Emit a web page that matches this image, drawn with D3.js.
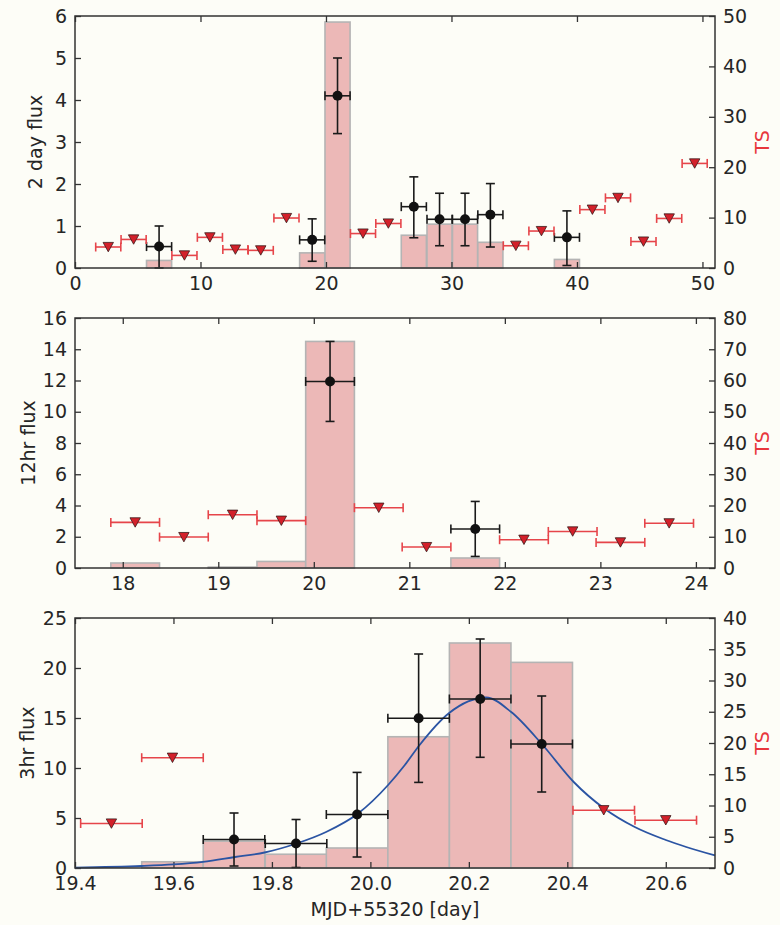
<!DOCTYPE html>
<html>
<head>
<meta charset="utf-8">
<script src="https://cdn.jsdelivr.net/npm/d3@7"></script>
<style>
  html, body { margin: 0; padding: 0; background: #fdfdf7; }
  svg { display: block; }
</style>
</head>
<body>
<div id="chart"></div>
<script>
// ---------- 2-day bins ----------
// null error bounds mark an upper limit (red triangle)
const day2Centers = [2.65, 4.67, 6.70, 8.72, 10.75, 12.78, 14.80, 16.85, 18.90, 20.92, 22.95, 24.97,
                     27.00, 29.05, 31.08, 33.10, 35.13, 37.17, 39.20, 41.23, 43.27, 45.30, 47.35, 49.38];
const day2Flux    = [0.50, 0.68, 0.51, 0.30, 0.73, 0.44, 0.42, 1.19, 0.67, 4.10, 0.82, 1.06,
                     1.46, 1.16, 1.16, 1.27, 0.53, 0.88, 0.73, 1.39, 1.67, 0.63, 1.18, 2.49];
const day2Low     = [null, null, 0.00, null, null, null, null, null, 0.16, 3.20, null, null,
                     0.72, 0.53, 0.53, 0.50, null, null, 0.06, null, null, null, null, null];
const day2High    = [null, null, 1.00, null, null, null, null, null, 1.17, 5.00, null, null,
                     2.17, 1.78, 1.78, 2.01, null, null, 1.36, null, null, null, null, null];
const day2TS      = [0, 0, 1.5, 0, 0, 0, 0, 0, 3.0, 48.8, 0, 0,
                     6.5, 8.7, 8.7, 5.1, 0, 0, 1.7, 0, 0, 0, 0, 0];
const day2HalfWidth = 1.0;
const day2XTicks = [0, 10, 20, 30, 40, 50];
const day2YTicks = [0, 1, 2, 3, 4, 5, 6];
const day2TSTicks = [0, 10, 20, 30, 40, 50];

// ---------- 12-hour bins ----------
const hr12Centers = [18.13, 18.64, 19.15, 19.66, 20.17, 20.68, 21.18, 21.69, 22.20, 22.71, 23.21, 23.72];
const hr12Flux    = [2.92, 1.98, 3.41, 3.03, 11.94, 3.86, 1.34, 2.50, 1.81, 2.34, 1.64, 2.86];
const hr12Low     = [null, null, null, null, 9.38, null, null, 0.74, null, null, null, null];
const hr12High    = [null, null, null, null, 14.50, null, null, 4.26, null, null, null, null];
const hr12TS      = [1.6, 0, 0.3, 2.1, 72.5, 0, 0, 3.2, 0, 0, 0, 0];
const hr12HalfWidth = 0.255;
const hr12XTicks = [18, 19, 20, 21, 22, 23, 24];
const hr12YTicks = [0, 2, 4, 6, 8, 10, 12, 14, 16];
const hr12TSTicks = [0, 10, 20, 30, 40, 50, 60, 70, 80];

// ---------- 3-hour bins ----------
const hr3Centers = [19.474, 19.598, 19.723, 19.849, 19.973, 20.098, 20.223, 20.348, 20.474, 20.600];
const hr3Flux    = [4.45, 11.03, 2.85, 2.45, 5.35, 14.97, 16.90, 12.40, 5.78, 4.78];
const hr3Low     = [null, null, 0.20, 0.05, 1.10, 8.56, 11.07, 7.60, null, null];
const hr3High    = [null, null, 5.50, 4.85, 9.56, 21.40, 22.90, 17.20, null, null];
const hr3TS      = [0, 1.0, 4.3, 2.2, 3.2, 21.0, 36.0, 32.9, 0, 0];
const hr3HalfWidth = 0.0625;
const hr3XTicks = [19.4, 19.6, 19.8, 20.0, 20.2, 20.4, 20.6];
const hr3YTicks = [0, 5, 10, 15, 20, 25];
const hr3TSTicks = [0, 5, 10, 15, 20, 25, 30, 35, 40];

// flare profile fitted to the 3-hour fluxes (sampled: day, flux)
const fitDays = [19.40, 19.535, 19.60, 19.66, 19.725, 19.785, 19.85, 19.91, 19.975, 20.036, 20.07, 20.10,
                 20.16, 20.235, 20.286, 20.35, 20.413, 20.475, 20.537, 20.60, 20.70];
const fitFlux = [0.04, 0.20, 0.36, 0.62, 1.10, 1.55, 2.45, 3.60, 5.45, 8.30, 10.30, 12.30,
                 15.50, 17.05, 15.60, 12.30, 8.60, 5.95, 4.10, 2.80, 1.25];

// ---------- layout ----------
const W = 780, H = 925;
const L = 75, R = 715;
const FONT = "DejaVu Sans, Liberation Sans, sans-serif";
const FS = 19;
const TXT = "#262626";
const BG = "#fdfdf7";

const svg = d3.select("#chart").append("svg")
  .attr("width", W).attr("height", H)
  .attr("viewBox", `0 0 ${W} ${H}`);

svg.append("rect").attr("width", W).attr("height", H).attr("fill", BG);

const panels = [
  { top: 16, bottom: 268, xDomain: [0, 51], yDomain: [0, 6], tsDomain: [0, 50],
    centers: day2Centers, flux: day2Flux, lo: day2Low, hi: day2High, ts: day2TS, half: day2HalfWidth,
    xTicks: day2XTicks, yTicks: day2YTicks, tsTicks: day2TSTicks, xFmt: d3.format("d"),
    yLabel: "2 day flux", yLabelX: 42 },
  { top: 318, bottom: 568, xDomain: [17.5, 24.2], yDomain: [0, 16], tsDomain: [0, 80],
    centers: hr12Centers, flux: hr12Flux, lo: hr12Low, hi: hr12High, ts: hr12TS, half: hr12HalfWidth,
    xTicks: hr12XTicks, yTicks: hr12YTicks, tsTicks: hr12TSTicks, xFmt: d3.format("d"),
    yLabel: "12hr flux", yLabelX: 35 },
  { top: 618, bottom: 868, xDomain: [19.4, 20.7], yDomain: [0, 25], tsDomain: [0, 40],
    centers: hr3Centers, flux: hr3Flux, lo: hr3Low, hi: hr3High, ts: hr3TS, half: hr3HalfWidth,
    xTicks: hr3XTicks, yTicks: hr3YTicks, tsTicks: hr3TSTicks, xFmt: d3.format(".1f"),
    yLabel: "3hr flux", yLabelX: 34, fit: true }
];

function styleAxis(sel) {
  sel.select(".domain").remove();
  sel.attr("font-family", FONT).attr("font-size", FS).attr("color", "#333");
  sel.selectAll(".tick line").attr("stroke-width", 1.3);
  sel.selectAll(".tick text").attr("fill", TXT);
}

panels.forEach(p => {
  const x = d3.scaleLinear().domain(p.xDomain).range([L, R]);
  const y = d3.scaleLinear().domain(p.yDomain).range([p.bottom, p.top]);
  const yTS = d3.scaleLinear().domain(p.tsDomain).range([p.bottom, p.top]);
  const g = svg.append("g");

  const rows = p.centers.map((c, i) => ({
    c, f: p.flux[i], lo: p.lo[i], hi: p.hi[i], ts: p.ts[i]
  }));

  // TS histogram (right axis)
  g.append("g").selectAll("rect")
    .data(rows.filter(d => d.ts > 0))
    .join("rect")
    .attr("x", d => x(d.c - p.half))
    .attr("width", d => x(d.c + p.half) - x(d.c - p.half))
    .attr("y", d => yTS(d.ts))
    .attr("height", d => yTS(0) - yTS(d.ts))
    .attr("fill", "#ecb8b7")
    .attr("stroke", "#b4b4b4")
    .attr("stroke-width", 1.6);

  // axes (inward ticks)
  const xb = g.append("g").attr("transform", `translate(0,${p.bottom})`)
    .call(d3.axisBottom(x).tickValues(p.xTicks).tickFormat(p.xFmt)
      .tickSizeInner(-6).tickSizeOuter(0).tickPadding(9));
  styleAxis(xb);
  const xt = g.append("g").attr("transform", `translate(0,${p.top})`)
    .call(d3.axisTop(x).tickValues(p.xTicks).tickFormat("")
      .tickSizeInner(-6).tickSizeOuter(0));
  styleAxis(xt);
  const yl = g.append("g").attr("transform", `translate(${L},0)`)
    .call(d3.axisLeft(y).tickValues(p.yTicks).tickFormat(d3.format("d"))
      .tickSizeInner(-6).tickSizeOuter(0).tickPadding(8));
  styleAxis(yl);
  const yr = g.append("g").attr("transform", `translate(${R},0)`)
    .call(d3.axisRight(yTS).tickValues(p.tsTicks).tickFormat(d3.format("d"))
      .tickSizeInner(-6).tickSizeOuter(0).tickPadding(8));
  styleAxis(yr);

  // fitted profile
  if (p.fit) {
    const pts = fitDays.map((d, i) => [d, fitFlux[i]]);
    g.append("path")
      .datum(pts)
      .attr("fill", "none")
      .attr("stroke", "#2b54a3")
      .attr("stroke-width", 1.8)
      .attr("d", d3.line().x(d => x(d[0])).y(d => y(d[1])).curve(d3.curveMonotoneX));
  }

  // detections: black points with error bars
  const det = rows.filter(d => d.lo !== null);
  const dg = g.append("g").attr("stroke", "#1a1a1a").attr("stroke-width", 1.6).attr("fill", "none");
  det.forEach(d => {
    const cx = x(d.c), cy = y(d.f);
    const x0 = x(d.c - p.half), x1 = x(d.c + p.half);
    const yl0 = y(d.lo), yh = y(d.hi);
    dg.append("line").attr("x1", x0).attr("x2", x1).attr("y1", cy).attr("y2", cy);
    dg.append("line").attr("x1", x0).attr("x2", x0).attr("y1", cy - 4.5).attr("y2", cy + 4.5);
    dg.append("line").attr("x1", x1).attr("x2", x1).attr("y1", cy - 4.5).attr("y2", cy + 4.5);
    dg.append("line").attr("x1", cx).attr("x2", cx).attr("y1", yl0).attr("y2", yh);
    dg.append("line").attr("x1", cx - 4.5).attr("x2", cx + 4.5).attr("y1", yl0).attr("y2", yl0);
    dg.append("line").attr("x1", cx - 4.5).attr("x2", cx + 4.5).attr("y1", yh).attr("y2", yh);
  });
  g.append("g").selectAll("circle").data(det).join("circle")
    .attr("cx", d => x(d.c)).attr("cy", d => y(d.f)).attr("r", 5)
    .attr("fill", "#111");

  // upper limits: red triangles
  const ul = rows.filter(d => d.lo === null);
  const ug = g.append("g").attr("stroke", "#e6454a").attr("stroke-width", 1.6).attr("fill", "none");
  ul.forEach(d => {
    const cy = y(d.f);
    const x0 = x(d.c - p.half), x1 = x(d.c + p.half);
    ug.append("line").attr("x1", x0).attr("x2", x1).attr("y1", cy).attr("y2", cy);
    ug.append("line").attr("x1", x0).attr("x2", x0).attr("y1", cy - 4.5).attr("y2", cy + 4.5);
    ug.append("line").attr("x1", x1).attr("x2", x1).attr("y1", cy - 4.5).attr("y2", cy + 4.5);
  });
  g.append("g").selectAll("path").data(ul).join("path")
    .attr("d", d => {
      const cx = x(d.c), cy = y(d.f);
      return `M${cx - 5.2},${cy - 4.6}L${cx + 5.2},${cy - 4.6}L${cx},${cy + 4.8}Z`;
    })
    .attr("fill", "#d3202a")
    .attr("stroke", "#3a1a1a")
    .attr("stroke-width", 0.8);

  // frame
  g.append("rect")
    .attr("x", L).attr("y", p.top)
    .attr("width", R - L).attr("height", p.bottom - p.top)
    .attr("fill", "none").attr("stroke", "#333").attr("stroke-width", 1.5);

  // axis titles
  const cyMid = (p.top + p.bottom) / 2;
  g.append("text")
    .attr("transform", `translate(${p.yLabelX},${cyMid}) rotate(-90)`)
    .attr("text-anchor", "middle")
    .attr("font-family", FONT).attr("font-size", FS).attr("fill", TXT)
    .text(p.yLabel);
  g.append("text")
    .attr("transform", `translate(769,${cyMid}) rotate(-90)`)
    .attr("text-anchor", "middle")
    .attr("font-family", FONT).attr("font-size", FS).attr("fill", "#e8363c")
    .text("TS");
});

svg.append("text")
  .attr("x", (L + R) / 2).attr("y", 916)
  .attr("text-anchor", "middle")
  .attr("font-family", FONT).attr("font-size", FS).attr("fill", TXT)
  .text("MJD+55320 [day]");
</script>
</body>
</html>
